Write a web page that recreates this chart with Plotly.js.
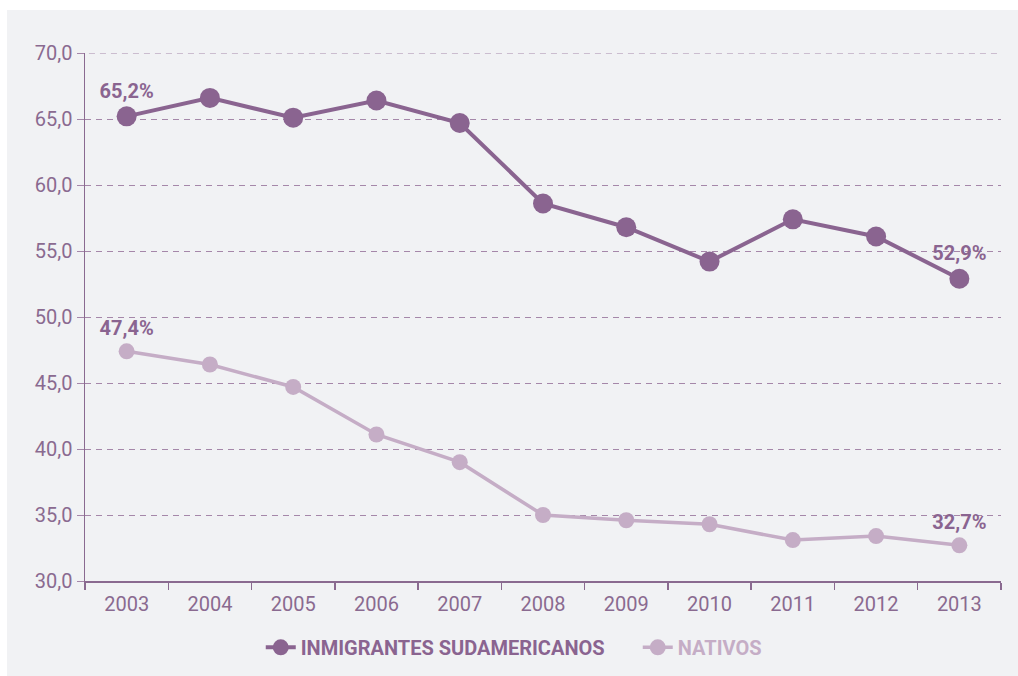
<!DOCTYPE html>
<html>
<head>
<meta charset="utf-8">
<script src="https://cdn.plot.ly/plotly-3.0.1.min.js"></script>
<style>
  html, body { margin: 0; padding: 0; background: #ffffff; }
  #chart { position: absolute; left: 7px; top: 10px; width: 1011px; height: 666px; }
</style>
</head>
<body>
<div id="chart"></div>
<script>
const years = ['2003','2004','2005','2006','2007','2008','2009','2010','2011','2012','2013'];
const inmigrantes = [65.2, 66.6, 65.1, 66.4, 64.7, 58.6, 56.8, 54.2, 57.4, 56.1, 52.9];
const nativos = [47.4, 46.4, 44.7, 41.1, 39.0, 35.0, 34.6, 34.3, 33.1, 33.4, 32.7];
const yTicks = [30, 35, 40, 45, 50, 55, 60, 65, 70];
const yTickLabels = ['30,0', '35,0', '40,0', '45,0', '50,0', '55,0', '60,0', '65,0', '70,0'];
const seriesNames = ['INMIGRANTES SUDAMERICANOS', 'NATIVOS'];

const dark = '#8a6490';
const light = '#c5adc6';
const txt = '#8a6a90';
const grid = '#a587a9';

function fmt(v) { return v.toFixed(1).replace('.', ',') + '%'; }
function endLabels(arr) { return arr.map((v, i) => (i === 0 || i === arr.length - 1) ? '<b>' + fmt(v) + '</b>' : ''); }

const traces = [
  {
    x: years, y: inmigrantes, type: 'scatter', mode: 'lines+markers+text',
    name: '<b><span style="color:' + dark + '">' + seriesNames[0] + '</span></b>',
    line: { color: dark, width: 4 },
    marker: { color: dark, size: 20 },
    text: endLabels(inmigrantes), textposition: 'top center',
    textfont: { family: 'Roboto, sans-serif', size: 20, color: dark },
    cliponaxis: false
  },
  {
    x: years, y: nativos, type: 'scatter', mode: 'lines+markers+text',
    name: '<b><span style="color:' + light + '">' + seriesNames[1] + '</span></b>',
    line: { color: light, width: 3.5 },
    marker: { color: light, size: 16 },
    text: endLabels(nativos), textposition: 'top center',
    textfont: { family: 'Roboto, sans-serif', size: 20, color: dark },
    cliponaxis: false
  }
];

const layout = {
  width: 1011, height: 666,
  margin: { l: 78, r: 17, t: 43, b: 95 },
  paper_bgcolor: '#f1f2f4',
  plot_bgcolor: '#f1f2f4',
  font: { family: 'Roboto, sans-serif', size: 20, color: txt },
  showlegend: true,
  legend: {
    orientation: 'h', xref: 'container', yref: 'container',
    x: 0.251, xanchor: 'left', y: 0.043, yanchor: 'middle',
    font: { family: 'Roboto, sans-serif', size: 20, color: dark },
    entrywidthmode: 'pixels', entrywidth: 332,
    traceorder: 'normal', bgcolor: 'rgba(0,0,0,0)'
  },
  shapes: [
    { type: 'line', xref: 'paper', yref: 'y', x0: -0.0077, x1: 1, y0: 70, y1: 70,
      line: { color: grid, width: 1, dash: '6px,5px' }, layer: 'below' }
  ],
  xaxis: {
    type: 'category', range: [-0.5, 10.5],
    showline: true, linecolor: txt, linewidth: 1.5,
    ticks: 'outside', tickson: 'boundaries', ticklen: 7, tickcolor: txt, tickwidth: 1.5,
    showgrid: false, zeroline: false, ticklabelstandoff: 4,
    tickfont: { size: 20, color: txt }, fixedrange: true
  },
  yaxis: {
    range: [30, 70], tickvals: yTicks, ticktext: yTickLabels,
    showline: true, linecolor: txt, linewidth: 1.5,
    ticks: 'outside', ticklen: 7, tickcolor: grid, tickwidth: 1,
    showgrid: true, gridcolor: grid, griddash: '6px,5px', gridwidth: 1,
    zeroline: false, tickfont: { size: 20, color: txt }, fixedrange: true
  }
};

Plotly.newPlot('chart', traces, layout, { displayModeBar: false, staticPlot: true });
</script>
</body>
</html>
